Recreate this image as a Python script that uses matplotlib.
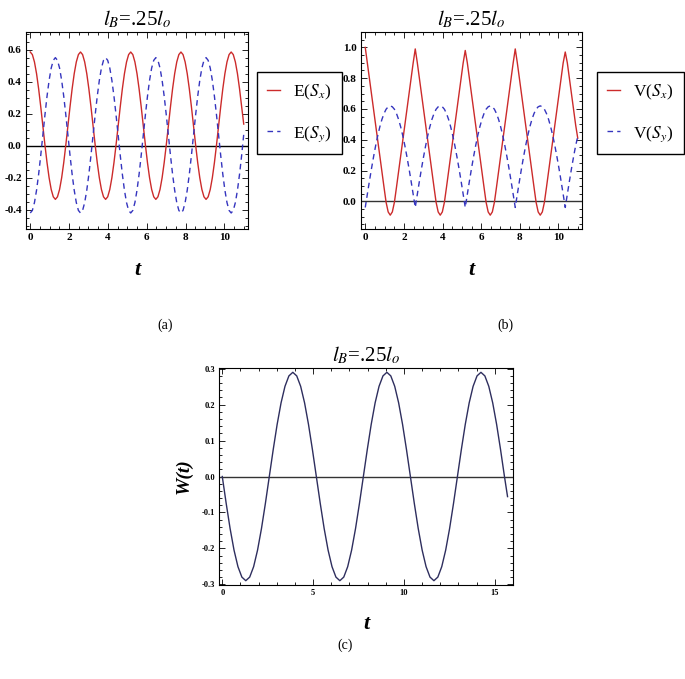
import numpy as np
import matplotlib
matplotlib.use('Agg')
import matplotlib.pyplot as plt
from matplotlib.ticker import MultipleLocator, FormatStrFormatter

plt.rcParams['font.family'] = ['Liberation Serif', 'DejaVu Serif']
plt.rcParams['mathtext.fontset'] = 'stix'

# (a), (b): t from 0 to 11
t_ab = np.linspace(0, 11, 103)

e_sx = [0.585, 0.569, 0.523, 0.450, 0.355, 0.244, 0.125, 0.006, -0.105, -0.200, -0.273, -0.319,
        -0.335, -0.319, -0.273, -0.200, -0.105, 0.006, 0.125, 0.244, 0.355, 0.450, 0.523, 0.569,
        0.585, 0.569, 0.523, 0.450, 0.355, 0.244, 0.125, 0.006, -0.105, -0.200, -0.273, -0.319,
        -0.335, -0.319, -0.273, -0.200, -0.105, 0.006, 0.125, 0.244, 0.355, 0.450, 0.523, 0.569,
        0.585, 0.569, 0.523, 0.450, 0.355, 0.244, 0.125, 0.006, -0.105, -0.200, -0.273, -0.319,
        -0.335, -0.319, -0.273, -0.200, -0.105, 0.006, 0.125, 0.244, 0.355, 0.450, 0.523, 0.569,
        0.585, 0.569, 0.523, 0.450, 0.355, 0.244, 0.125, 0.006, -0.105, -0.200, -0.273, -0.319,
        -0.335, -0.319, -0.273, -0.200, -0.105, 0.006, 0.125, 0.244, 0.355, 0.450, 0.523, 0.569,
        0.585, 0.569, 0.523, 0.450, 0.355, 0.244, 0.135]

e_sy = [-0.420, -0.404, -0.355, -0.278, -0.178, -0.061, 0.065, 0.191, 0.308, 0.408, 0.485, 0.533,
        0.550, 0.533, 0.485, 0.408, 0.308, 0.191, 0.065, -0.061, -0.178, -0.278, -0.355, -0.404,
        -0.420, -0.404, -0.355, -0.278, -0.178, -0.061, 0.065, 0.191, 0.308, 0.408, 0.485, 0.533,
        0.550, 0.533, 0.485, 0.408, 0.308, 0.191, 0.065, -0.061, -0.178, -0.278, -0.355, -0.404,
        -0.420, -0.404, -0.355, -0.278, -0.178, -0.061, 0.065, 0.191, 0.308, 0.408, 0.485, 0.533,
        0.550, 0.533, 0.485, 0.408, 0.308, 0.191, 0.065, -0.061, -0.178, -0.278, -0.355, -0.404,
        -0.420, -0.404, -0.355, -0.278, -0.178, -0.061, 0.065, 0.191, 0.308, 0.408, 0.485, 0.533,
        0.550, 0.533, 0.485, 0.408, 0.308, 0.191, 0.065, -0.061, -0.178, -0.278, -0.355, -0.404,
        -0.420, -0.404, -0.355, -0.278, -0.178, -0.061, 0.070]

v_sx = [1.000, 0.899, 0.798, 0.697, 0.596, 0.495, 0.394, 0.294, 0.193, 0.092, -0.006, -0.069,
        -0.090, -0.069, -0.006, 0.092, 0.193, 0.294, 0.394, 0.495, 0.596, 0.697, 0.798, 0.899,
        0.990, 0.899, 0.798, 0.697, 0.596, 0.495, 0.394, 0.294, 0.193, 0.092, -0.006, -0.069,
        -0.090, -0.069, -0.006, 0.092, 0.193, 0.294, 0.394, 0.495, 0.596, 0.697, 0.798, 0.899,
        0.980, 0.899, 0.798, 0.697, 0.596, 0.495, 0.394, 0.294, 0.193, 0.092, -0.006, -0.069,
        -0.090, -0.069, -0.006, 0.092, 0.193, 0.294, 0.394, 0.495, 0.596, 0.697, 0.798, 0.899,
        0.990, 0.899, 0.798, 0.697, 0.596, 0.495, 0.394, 0.294, 0.193, 0.092, -0.006, -0.069,
        -0.090, -0.069, -0.006, 0.092, 0.193, 0.294, 0.394, 0.495, 0.596, 0.697, 0.798, 0.899,
        0.970, 0.899, 0.798, 0.697, 0.596, 0.495, 0.410]

v_sy = [-0.040, 0.046, 0.131, 0.213, 0.290, 0.362, 0.427, 0.484, 0.532, 0.570, 0.598, 0.614,
        0.620, 0.614, 0.598, 0.570, 0.532, 0.484, 0.427, 0.362, 0.290, 0.213, 0.131, 0.046,
        -0.040, 0.046, 0.131, 0.213, 0.290, 0.362, 0.427, 0.484, 0.532, 0.570, 0.598, 0.614,
        0.620, 0.614, 0.598, 0.570, 0.532, 0.484, 0.427, 0.362, 0.290, 0.213, 0.131, 0.046,
        -0.040, 0.046, 0.131, 0.213, 0.290, 0.362, 0.427, 0.484, 0.532, 0.570, 0.598, 0.614,
        0.620, 0.614, 0.598, 0.570, 0.532, 0.484, 0.427, 0.362, 0.290, 0.213, 0.131, 0.046,
        -0.040, 0.046, 0.131, 0.213, 0.290, 0.362, 0.427, 0.484, 0.532, 0.570, 0.598, 0.614,
        0.620, 0.614, 0.598, 0.570, 0.532, 0.484, 0.427, 0.362, 0.290, 0.213, 0.131, 0.046,
        -0.040, 0.046, 0.131, 0.213, 0.290, 0.362, 0.420]

# (c): t from 0 to 15.7
t_c = np.append(np.linspace(0, 15.53, 73), 15.7)
w_t = [0.000, -0.075, -0.145, -0.205, -0.251, -0.280, -0.290, -0.280, -0.251, -0.205, -0.145, -0.075,
       0.000, 0.075, 0.145, 0.205, 0.251, 0.280, 0.290, 0.280, 0.251, 0.205, 0.145, 0.075,
       0.000, -0.075, -0.145, -0.205, -0.251, -0.280, -0.290, -0.280, -0.251, -0.205, -0.145, -0.075,
       0.000, 0.075, 0.145, 0.205, 0.251, 0.280, 0.290, 0.280, 0.251, 0.205, 0.145, 0.075,
       0.000, -0.075, -0.145, -0.205, -0.251, -0.280, -0.290, -0.280, -0.251, -0.205, -0.145, -0.075,
       0.000, 0.075, 0.145, 0.205, 0.251, 0.280, 0.290, 0.280, 0.251, 0.205, 0.145, 0.075,
       0.000, -0.056]

title = r'$l_B$=.25$l_o$'
red = '#cc2b2b'
blue = '#3535bf'


def frame(ax, xmaj, xmin, ymaj, ymin, size):
    ax.xaxis.set_major_locator(MultipleLocator(xmaj))
    ax.xaxis.set_minor_locator(MultipleLocator(xmin))
    ax.yaxis.set_major_locator(MultipleLocator(ymaj))
    ax.yaxis.set_minor_locator(MultipleLocator(ymin))
    ax.yaxis.set_major_formatter(FormatStrFormatter('%.1f'))
    ax.tick_params(which='both', direction='in', top=True, right=True, width=0.6)
    ax.tick_params(which='major', length=4, labelsize=size, pad=3)
    ax.tick_params(which='minor', length=2)
    for lab in ax.get_xticklabels() + ax.get_yticklabels():
        lab.set_fontweight('bold')
    for s in ax.spines.values():
        s.set_linewidth(0.8)


def legend(handles, labels, x):
    fig.legend(handles, labels, loc='upper left', bbox_to_anchor=(x/685, 1-72/679),
               borderaxespad=0, fontsize=12.5, frameon=True, fancybox=False, edgecolor='black',
               framealpha=1, labelspacing=1.3, handlelength=0.7, handletextpad=0.8, borderpad=0.6)


fig = plt.figure(figsize=(6.85, 6.79), dpi=100)

ax1 = fig.add_axes([26/685, 1-229/679, 222/685, 197/679])
ax1.axhline(0, color='black', lw=1.0)
l1, = ax1.plot(t_ab, e_sx, color=red, lw=1.0)
l2, = ax1.plot(t_ab, e_sy, color=blue, lw=1.0, linestyle=(0, (4, 3)))
ax1.set_xlim(-0.22, 11.22)
ax1.set_ylim(-0.52, 0.71)
frame(ax1, 2, 0.5, 0.2, 0.05, 8)
ax1.set_title(title, fontsize=15, pad=5)
ax1.set_xlabel('t', fontsize=16, fontstyle='italic', fontweight='bold', labelpad=13)
legend([l1, l2], [r'E($S_x$)', r'E($S_y$)'], 257)

ax2 = fig.add_axes([361/685, 1-229/679, 221/685, 197/679])
ax2.axhline(0, color='#333333', lw=1.0)
l3, = ax2.plot(t_ab, v_sx, color=red, lw=1.0)
l4, = ax2.plot(t_ab, v_sy, color=blue, lw=1.0, linestyle=(0, (4, 3)))
ax2.set_xlim(-0.22, 11.22)
ax2.set_ylim(-0.18, 1.10)
frame(ax2, 2, 0.5, 0.2, 0.05, 8)
ax2.set_title(title, fontsize=15, pad=5)
ax2.set_xlabel('t', fontsize=16, fontstyle='italic', fontweight='bold', labelpad=13)
legend([l3, l4], [r'V($S_x$)', r'V($S_y$)'], 597)

ax3 = fig.add_axes([219/685, 1-585/679, 294/685, 217/679])
ax3.axhline(0, color='#333333', lw=1.0)
ax3.plot(t_c, w_t, color='#2e2e5e', lw=1.0)
ax3.set_xlim(-0.18, 16.0)
ax3.set_ylim(-0.302, 0.302)
frame(ax3, 5, 1, 0.1, 0.02, 6)
ax3.set_title(title, fontsize=15, pad=5)
ax3.set_xlabel('t', fontsize=16, fontstyle='italic', fontweight='bold', labelpad=12)
ax3.set_ylabel('W(t)', fontsize=14, fontstyle='italic', fontweight='bold', labelpad=6)

fig.text(165/685, 1-325/679, '(a)', ha='center', va='center', fontsize=10)
fig.text(505/685, 1-325/679, '(b)', ha='center', va='center', fontsize=10)
fig.text(345/685, 1-645/679, '(c)', ha='center', va='center', fontsize=10)

fig.savefig('out.png', dpi=100)
